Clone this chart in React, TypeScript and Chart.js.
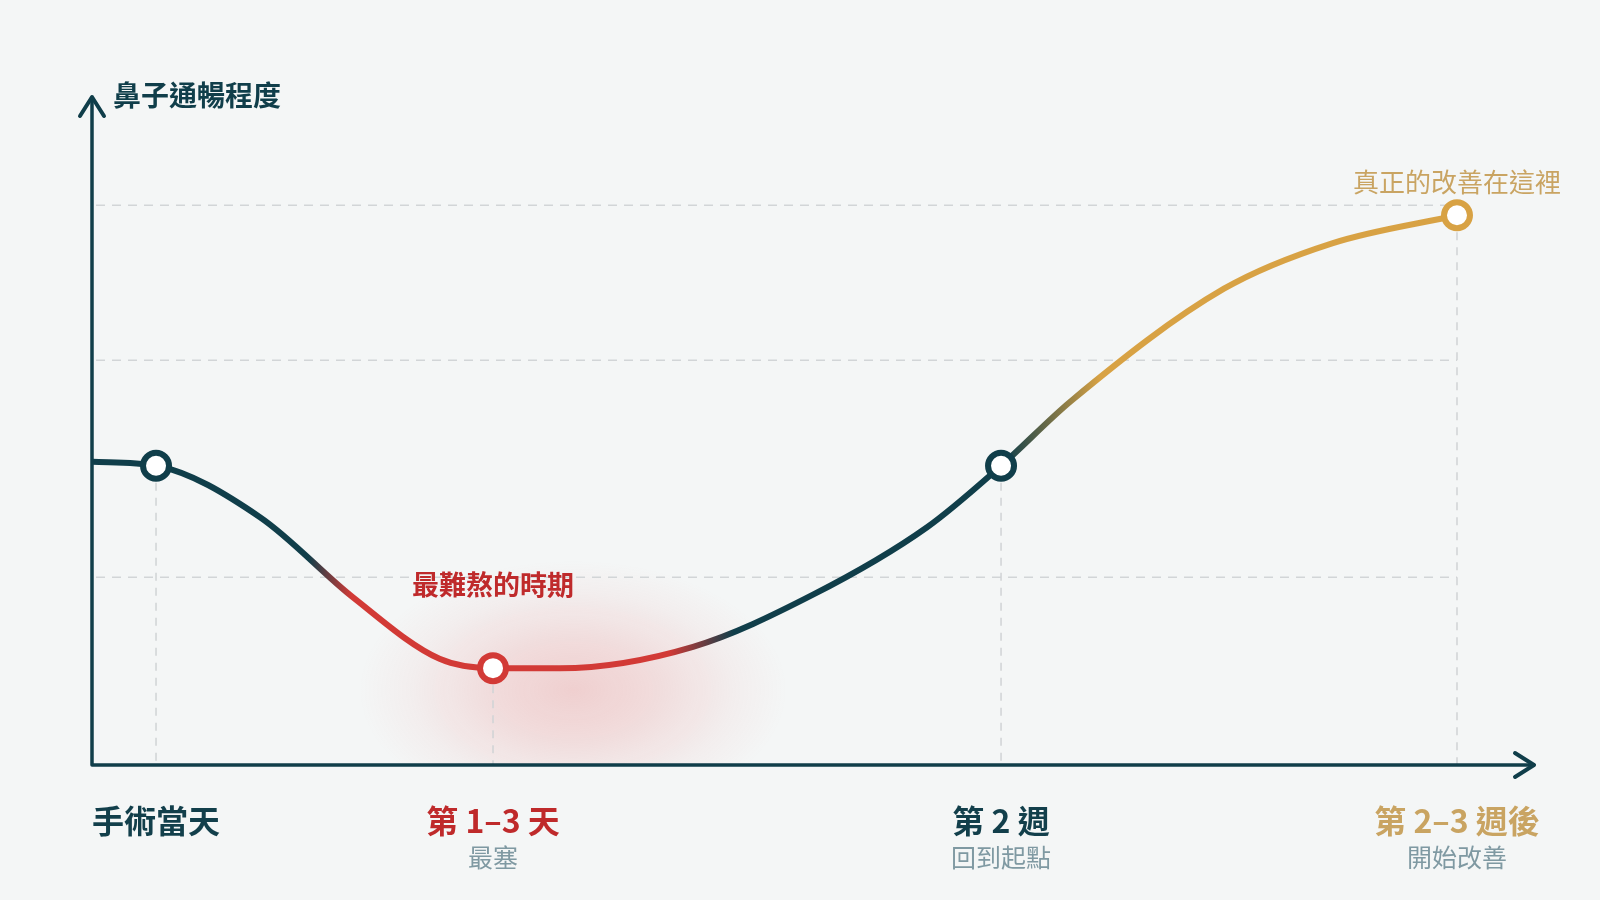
import { useEffect, useRef } from 'react';
import { Chart, registerables } from 'chart.js';

Chart.register(...registerables);

// curve: x = timeline position (0..100), y = nasal airflow (0..100)
const curveX = [0, 4.44, 11.65, 18.1, 24.1, 27.81, 32.45, 41.68, 50.0, 57.91, 63.04, 67.9, 78.5, 86.0, 94.66];
const curveY = [45.4, 44.8, 37.1, 25.1, 15.9, 14.5, 14.5, 17.7, 25.5, 35.6, 44.8, 54.5, 71.3, 78.1, 82.3];

// the four milestones
const stageX = [4.44, 27.81, 63.04, 94.66];
const stageY = [44.8, 14.5, 44.8, 82.3];
const stageLabels = ['手術當天', '第 1–3 天', '第 2 週', '第 2–3 週後'];
const stageNotes = ['', '最塞', '回到起點', '開始改善'];

const gridY = [28.1, 60.6, 83.8];

const yTitle = '鼻子通暢程度';
const worstNote = '最難熬的時期';
const bestNote = '真正的改善在這裡';

const DARK = '#103e4a';
const RED = '#d23a36';
const GOLD = '#d8a244';
const FONT = '"Noto Sans CJK TC", "Noto Sans", sans-serif';

const stageBorder = [DARK, RED, DARK, GOLD];
const stageText = ['#123f4b', '#bf2a2b', '#123f4b', '#c9a462'];

// where the line colour changes along the timeline
const lineStops: [number, string][] = [
  [0, DARK], [15.0, DARK], [18.0, RED], [40.0, RED], [44.5, DARK], [63.3, DARK], [69.9, GOLD], [100, GOLD],
];

const decor = {
  id: 'decor',
  beforeDatasetsDraw(chart: any) {
    const { ctx, chartArea: a, scales: { x, y } } = chart;
    ctx.save();

    // soft red glow around the worst period
    ctx.save();
    ctx.beginPath();
    ctx.rect(a.left, a.top, a.right - a.left, a.bottom - a.top);
    ctx.clip();
    const cx = x.getPixelForValue(stageX[1]) + 80;
    const cy = y.getPixelForValue(stageY[1]) + 22;
    ctx.translate(cx, cy);
    ctx.scale(1.65, 1);
    const rg = ctx.createRadialGradient(0, 0, 0, 0, 0, 130);
    rg.addColorStop(0, 'rgba(228,92,92,0.25)');
    rg.addColorStop(0.4, 'rgba(228,92,92,0.16)');
    rg.addColorStop(0.75, 'rgba(228,92,92,0.05)');
    rg.addColorStop(1, 'rgba(228,92,92,0)');
    ctx.fillStyle = rg;
    ctx.fillRect(-135, -135, 270, 270);
    ctx.restore();

    // dashed horizontal guides
    const gridEnd = x.getPixelForValue(stageX[stageX.length - 1]);
    ctx.lineWidth = 1.5;
    ctx.strokeStyle = '#d2d5d7';
    ctx.setLineDash([9, 7]);
    gridY.forEach((v) => {
      const py = y.getPixelForValue(v);
      ctx.beginPath();
      ctx.moveTo(a.left + 4, py);
      ctx.lineTo(gridEnd, py);
      ctx.stroke();
    });

    // dashed drop lines under each milestone
    ctx.strokeStyle = '#d0d3d5';
    ctx.setLineDash([8, 7]);
    stageX.forEach((v, i) => {
      const px = x.getPixelForValue(v);
      const py = y.getPixelForValue(stageY[i]);
      ctx.beginPath();
      ctx.moveTo(px, py + 17);
      ctx.lineTo(px, a.bottom);
      ctx.stroke();
    });
    ctx.setLineDash([]);

    // axes with arrow heads
    ctx.strokeStyle = DARK;
    ctx.lineWidth = 3.5;
    ctx.lineCap = 'round';
    ctx.lineJoin = 'round';
    ctx.beginPath();
    ctx.moveTo(a.left, a.top + 2);
    ctx.lineTo(a.left, a.bottom);
    ctx.lineTo(a.right, a.bottom);
    ctx.stroke();
    ctx.lineWidth = 4;
    ctx.beginPath();
    ctx.moveTo(a.left - 12, a.top + 19);
    ctx.lineTo(a.left, a.top);
    ctx.lineTo(a.left + 12, a.top + 19);
    ctx.moveTo(a.right - 19, a.bottom - 12);
    ctx.lineTo(a.right, a.bottom);
    ctx.lineTo(a.right - 19, a.bottom + 12);
    ctx.stroke();
    ctx.restore();
  },
  afterDatasetsDraw(chart: any) {
    const { ctx, chartArea: a, scales: { x, y } } = chart;
    ctx.save();
    ctx.textBaseline = 'middle';

    ctx.textAlign = 'left';
    ctx.fillStyle = DARK;
    ctx.font = `700 28px ${FONT}`;
    ctx.fillText(yTitle, a.left + 21, a.top - 2);

    ctx.textAlign = 'center';
    stageX.forEach((v, i) => {
      const px = x.getPixelForValue(v);
      ctx.fillStyle = stageText[i];
      ctx.font = `700 32px ${FONT}`;
      ctx.fillText(stageLabels[i], px, a.bottom + 56);
      if (stageNotes[i]) {
        ctx.fillStyle = '#7f99a2';
        ctx.font = `400 25px ${FONT}`;
        ctx.fillText(stageNotes[i], px, a.bottom + 92);
      }
    });

    ctx.fillStyle = '#bf2a2b';
    ctx.font = `700 27px ${FONT}`;
    ctx.fillText(worstNote, x.getPixelForValue(stageX[1]), y.getPixelForValue(stageY[1]) - 83);

    ctx.fillStyle = '#c9a462';
    ctx.font = `400 26px ${FONT}`;
    ctx.fillText(bestNote, x.getPixelForValue(stageX[3]), y.getPixelForValue(stageY[3]) - 33);
    ctx.restore();
  },
};

export default function App() {
  const canvasRef = useRef<HTMLCanvasElement>(null);
  const chartRef = useRef<Chart | null>(null);

  useEffect(() => {
    if (!canvasRef.current) return;
    chartRef.current?.destroy();
    chartRef.current = new Chart(canvasRef.current, {
      type: 'line',
      data: {
        datasets: [
          {
            label: 'stages',
            data: stageX.map((v, i) => ({ x: v, y: stageY[i] })),
            showLine: false,
            pointRadius: 13,
            pointBorderWidth: 6,
            pointBackgroundColor: '#ffffff',
            pointBorderColor: stageBorder,
          },
          {
            label: 'airflow',
            data: curveX.map((v, i) => ({ x: v, y: curveY[i] })),
            cubicInterpolationMode: 'monotone',
            borderWidth: 6,
            borderCapStyle: 'round',
            pointRadius: 0,
            borderColor: (c: any) => {
              const { chart } = c;
              const a = chart.chartArea;
              if (!a) return DARK;
              const xs = chart.scales.x;
              const g = chart.ctx.createLinearGradient(a.left, 0, a.right, 0);
              const w = a.right - a.left;
              lineStops.forEach(([v, col]) => {
                g.addColorStop(Math.min(1, Math.max(0, (xs.getPixelForValue(v) - a.left) / w)), col);
              });
              return g;
            },
          },
        ],
      },
      options: {
        responsive: true,
        maintainAspectRatio: false,
        animation: false,
        layout: { padding: { left: 92, right: 66, top: 97, bottom: 135 } },
        plugins: { legend: { display: false }, tooltip: { enabled: false } },
        scales: {
          x: { type: 'linear', min: 0, max: 100, display: false },
          y: { type: 'linear', min: 0, max: 100, display: false },
        },
      },
      plugins: [decor],
    });
    return () => chartRef.current?.destroy();
  }, []);

  return (
    <div style={{ position: 'fixed', left: 0, top: 0, width: 1600, height: 900, background: '#f4f6f6' }}>
      <canvas ref={canvasRef} />
    </div>
  );
}
